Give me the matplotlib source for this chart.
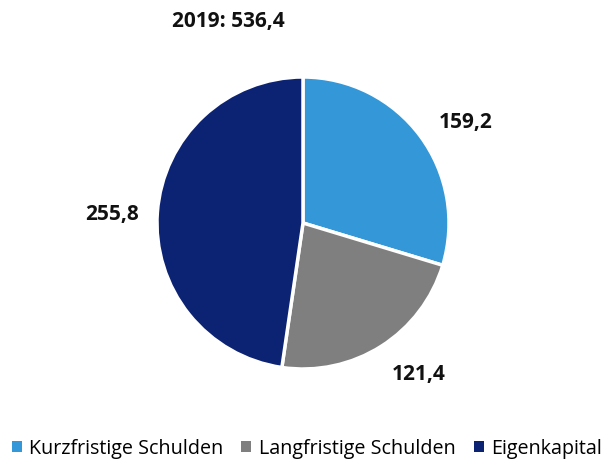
import numpy as np
import matplotlib
matplotlib.use("Agg")
import matplotlib.pyplot as plt
from matplotlib.patches import Patch

plt.rcParams['font.family'] = ['Open Sans', 'DejaVu Sans']

# Daten (Mrd., 2019)
kategorien = ["Kurzfristige Schulden", "Langfristige Schulden", "Eigenkapital"]
werte = [159.2, 121.4, 255.8]
farben = ["#3497d7", "#7f7f7f", "#0c2273"]
gesamt = 536.4

def fmt(v):
    return f"{v:.1f}".replace(".", ",")

fig = plt.figure(figsize=(6.08, 4.59), dpi=100)
ax = fig.add_axes([0, 0, 1, 1])

mitte = (303, 236)
radius = 146
wedges, _ = ax.pie(werte, colors=farben, startangle=90, counterclock=False,
                   center=mitte, radius=radius,
                   wedgeprops=dict(edgecolor='white', linewidth=2.5))

# Beschriftungen ausserhalb, leicht versetzt wie im Original
versatz = [-5, 5, 1.5]
for w, v, dv in zip(wedges, werte, versatz):
    ang = np.deg2rad((w.theta1 + w.theta2) / 2 + dv)
    r = radius * 1.31
    ax.text(mitte[0] + r * np.cos(ang), mitte[1] + r * np.sin(ang), fmt(v),
            ha='center', va='center', fontsize=15, fontweight='bold', color='#111111')

# pie() setzt eigene Grenzen -> danach in Pixelkoordinaten festlegen
ax.set_xlim(0, 608)
ax.set_ylim(0, 459)
ax.set_aspect('equal')
ax.axis('off')

ax.text(228, 437, f"2019: {fmt(gesamt)}", ha='center', va='center',
        fontsize=15, fontweight='bold', color='#111111')

handles = [Patch(facecolor=c, edgecolor='none') for c in farben]
fig.legend(handles, kategorien, loc='lower center', ncol=3, frameon=False,
           bbox_to_anchor=(0.505, -0.038), fontsize=14.2, handlelength=0.5,
           handleheight=0.5, handletextpad=0.4, columnspacing=0.9)

fig.savefig("out.png", dpi=100)
